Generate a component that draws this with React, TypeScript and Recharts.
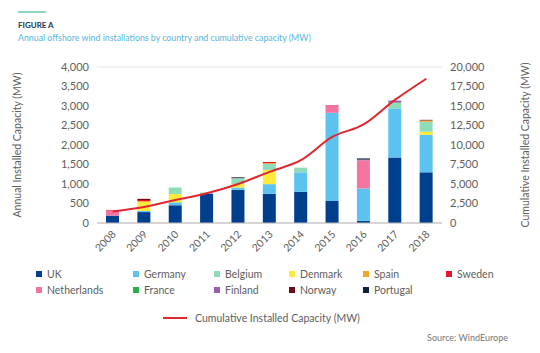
import React from "react";
import { ComposedChart, Bar, Line, XAxis, YAxis, CartesianGrid } from "recharts";

const years = ["2008", "2009", "2010", "2011", "2012", "2013", "2014", "2015", "2016", "2017", "2018"];
const uk = [190, 280, 455, 750, 850, 748, 800, 566, 56, 1679, 1300];
const germany = [0, 30, 75, 25, 60, 248, 500, 2260, 830, 1260, 960];
const denmark = [0, 230, 215, 10, 90, 365, 0, 0, 0, 0, 80];
const belgium = [0, 0, 165, 0, 150, 154, 120, 0, 0, 140, 255];
const netherlands = [130, 0, 0, 0, 0, 0, 0, 200, 720, 0, 0];
const spain = [0, 20, 0, 0, 0, 20, 0, 0, 0, 0, 30];
const sweden = [15, 30, 0, 0, 0, 30, 0, 0, 0, 0, 0];
const france = [0, 0, 0, 0, 0, 0, 0, 0, 0, 10, 5];
const finland = [0, 0, 0, 0, 0, 0, 0, 0, 20, 50, 0];
const norway = [0, 30, 0, 0, 10, 0, 0, 0, 0, 0, 15];
const portugal = [0, 0, 0, 0, 15, 0, 0, 0, 30, 0, 0];
const cumulative = [1471, 2056, 2946, 3813, 4995, 6562, 8045, 11027, 12631, 15780, 18499];

const leftTicks = [0, 500, 1000, 1500, 2000, 2500, 3000, 3500, 4000];
const rightTicks = [0, 2500, 5000, 7500, 10000, 12500, 15000, 17500, 20000];

const countries = [
  { key: "UK", values: uk, color: "#003f8e" },
  { key: "Germany", values: germany, color: "#5cc3f1" },
  { key: "Denmark", values: denmark, color: "#fdea3a" },
  { key: "Belgium", values: belgium, color: "#8fdcb9" },
  { key: "Netherlands", values: netherlands, color: "#f4749f" },
  { key: "Spain", values: spain, color: "#f6a524" },
  { key: "Sweden", values: sweden, color: "#e5172b" },
  { key: "France", values: france, color: "#2eb04b" },
  { key: "Finland", values: finland, color: "#9b5db0" },
  { key: "Norway", values: norway, color: "#6e0b16" },
  { key: "Portugal", values: portugal, color: "#0d1f3c" },
];

const legendOrder = [
  ["UK", "Germany", "Belgium", "Denmark", "Spain", "Sweden"],
  ["Netherlands", "France", "Finland", "Norway", "Portugal"],
];
const legendX = [36, 133, 214, 289, 363, 446];
const legendY = [274, 290];

const data = years.map((y, i) => {
  const row: any = { year: y, cumulative: cumulative[i] };
  countries.forEach((c) => (row[c.key] = c.values[i]));
  return row;
});

const FONT = "Lato, 'DejaVu Sans', sans-serif";
const GRAY = "#5e5e5e";

const fmt = (v: number) => v.toLocaleString("en-US");

const XTick = (props: any) => {
  const { x, y, payload } = props;
  return (
    <text
      transform={`translate(${x + 4},${y + 12}) rotate(-45)`}
      textAnchor="end"
      fontSize={10.5}
      fontFamily={FONT}
      fill={GRAY}
    >
      {payload.value}
    </text>
  );
};

export default function App() {
  const colorOf = (k: string) => countries.find((c) => c.key === k)!.color;
  return (
    <div style={{ position: "absolute", left: 0, top: 0, width: 540, height: 353, background: "#fff", fontFamily: FONT }}>
      <div style={{ position: "absolute", left: 18, top: 11, width: 28, height: 2, background: "#8fd4c1" }} />
      <div style={{ position: "absolute", left: 18, top: 20, fontSize: 8, fontWeight: 700, color: "#1e3554" }}>FIGURE A</div>
      <div style={{ position: "absolute", left: 18, top: 32, fontSize: 8.8, color: "#5ab6dc", whiteSpace: "nowrap" }}>
        Annual offshore wind installations by country and cumulative capacity (MW)
      </div>
      <div style={{ position: "absolute", left: 0, top: 0 }}>
        <ComposedChart width={540} height={260} data={data} margin={{ top: 67, right: 0, bottom: 0, left: 0 }} barSize={13}>
          <CartesianGrid vertical={false} stroke="#e6e6e6" />
          <XAxis
            dataKey="year"
            height={37}
            tick={<XTick />}
            tickLine={false}
            tickSize={0}
            tickMargin={0}
            axisLine={{ stroke: "#b8b8b8" }}
            interval={0}
          />
          <YAxis
            yAxisId="left"
            width={97}
            domain={[0, 4000]}
            ticks={leftTicks}
            tickFormatter={fmt}
            axisLine={false}
            tickLine={false}
            tick={{ fontSize: 11, fill: GRAY, fontFamily: FONT }}
            label={{
              value: "Annual Installed Capacity (MW)",
              angle: -90,
              position: "insideLeft",
              offset: 17,
              style: { textAnchor: "middle", fontSize: 10.5, fill: GRAY, fontFamily: FONT },
            }}
          />
          <YAxis
            yAxisId="right"
            orientation="right"
            width={98}
            domain={[0, 20000]}
            ticks={rightTicks}
            tickFormatter={fmt}
            axisLine={false}
            tickLine={false}
            tick={{ fontSize: 11, fill: GRAY, fontFamily: FONT, textAnchor: "start" }}
            label={{
              value: "Cumulative Installed Capacity (MW)",
              angle: -90,
              position: "insideRight",
              offset: 15,
              style: { textAnchor: "middle", fontSize: 10.5, fill: GRAY, fontFamily: FONT },
            }}
          />
          {countries.map((c) => (
            <Bar key={c.key} dataKey={c.key} yAxisId="left" stackId="a" fill={c.color} isAnimationActive={false} />
          ))}
          <Line
            yAxisId="right"
            dataKey="cumulative"
            type="monotone"
            stroke="#e0262f"
            strokeWidth={2}
            dot={false}
            isAnimationActive={false}
          />
        </ComposedChart>
      </div>
      {legendOrder.map((row, r) =>
        row.map((k, i) => (
          <div key={k} style={{ position: "absolute", left: legendX[i], top: legendY[r] - 6, height: 12, display: "flex", alignItems: "center", whiteSpace: "nowrap" }}>
            <div style={{ width: 6, height: 6, background: colorOf(k), marginRight: 5 }} />
            <span style={{ fontSize: 10.5, color: GRAY }}>{k}</span>
          </div>
        ))
      )}
      <div style={{ position: "absolute", left: 163, top: 317, width: 24, height: 2, background: "#e0262f" }} />
      <div style={{ position: "absolute", left: 195, top: 312, fontSize: 10.5, color: GRAY, whiteSpace: "nowrap" }}>
        Cumulative Installed Capacity (MW)
      </div>
      <div style={{ position: "absolute", right: 32, top: 332, fontSize: 9, color: "#777", whiteSpace: "nowrap" }}>
        Source: WindEurope
      </div>
    </div>
  );
}
